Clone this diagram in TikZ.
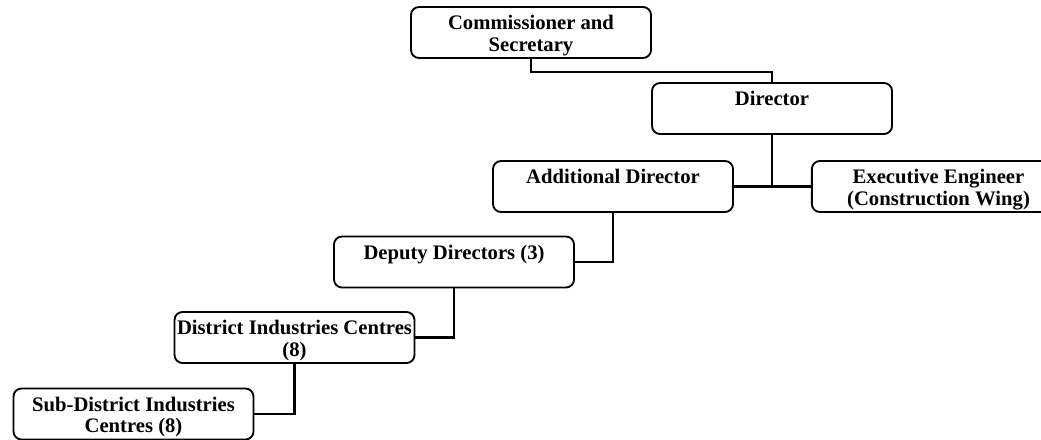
\documentclass[tikz,border=0pt]{standalone}
\usepackage{fontspec}
\setmainfont{Liberation Serif}
\usepackage{tikz}

% text of a box, hung from its first line
\newcommand{\orglines}[1]{\begin{tabular}[t]{@{}c@{}}#1\end{tabular}}

\begin{document}
\begin{tikzpicture}[x=0.75pt, y=-0.75pt,
	box/.style={shape=rectangle, draw=black, line width=1.4pt, rounded corners=6pt,
		minimum width=180pt, minimum height=38.25pt, inner xsep=1pt, inner ysep=2pt,
		text height=15pt, text depth=19.25pt,
		font=\fontsize{15.5}{16}\selectfont\bfseries},
	link/.style={draw=black, line width=1.8pt}]
	\useasboundingbox (0, 0) rectangle (1041, 439);

	\node[box] (cs)   at (531, 32.5)   {\orglines{Commissioner and\\Secretary}};
	\node[box] (dir)  at (772, 108.5)  {\orglines{Director}};
	\node[box] (ad)   at (613, 186.5)  {\orglines{Additional Director}};
	\node[box, minimum width=190pt] (ee) at (938.5, 186.5) {\orglines{Executive Engineer\\(Construction Wing)}};
	\node[box] (dd)   at (454, 262)    {\orglines{Deputy Directors (3)}};
	\node[box] (dic)  at (294.5, 337.5) {\orglines{District Industries Centres\\(8)}};
	\node[box] (sdic) at (133.5, 414)  {\orglines{Sub-District Industries\\Centres (8)}};

	\draw[link] (cs.south) -- ++(0, 13) -| (dir.north);
	\draw[link] (dir.south) -- (dir.south |- ad.east);
	\draw[link] (ad.east) -- (ee.west);
	\draw[link] (ad.south) |- (dd.east);
	\draw[link] (dd.south) |- (dic.east);
	\draw[link] (dic.south) |- (sdic.east);
\end{tikzpicture}
\end{document}
